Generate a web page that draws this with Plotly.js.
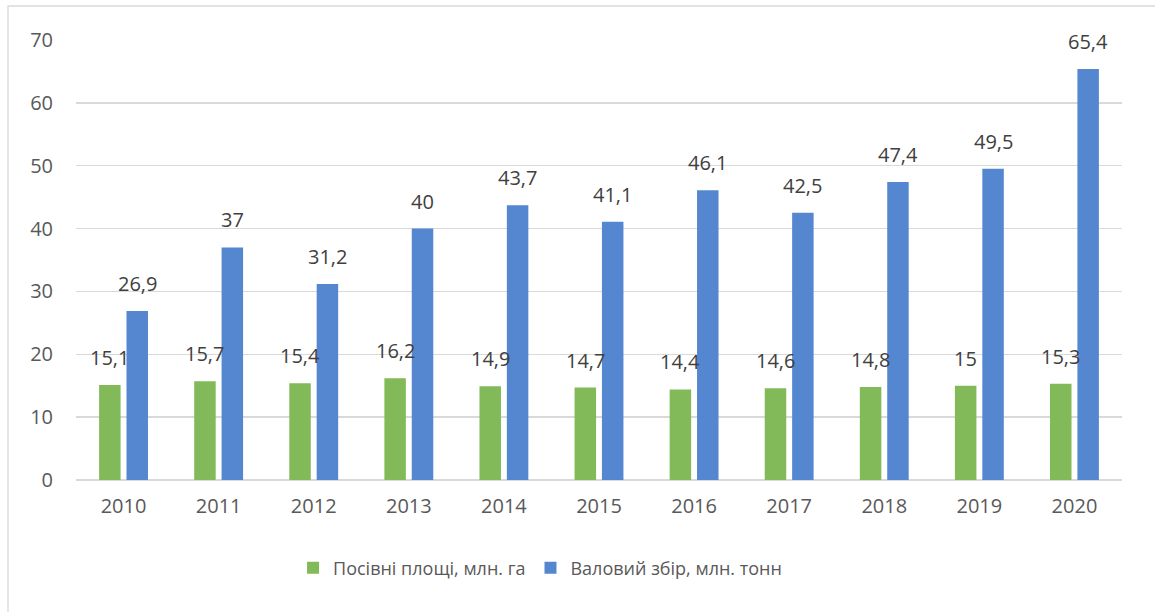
<!DOCTYPE html>
<html>
<head>
<meta charset="utf-8">
<script src="https://cdn.plot.ly/plotly-3.0.1.min.js"></script>
<style>html,body{margin:0;padding:0;background:#fff;}#chart{width:1155px;height:612px;}</style>
</head>
<body>
<div id="chart"></div>
<script>
const years = ['2010','2011','2012','2013','2014','2015','2016','2017','2018','2019','2020'];
const area = [15.1,15.7,15.4,16.2,14.9,14.7,14.4,14.6,14.8,15,15.3];
const harvest = [26.9,37,31.2,40,43.7,41.1,46.1,42.5,47.4,49.5,65.4];
const seriesNames = ['Посівні площі, млн. га','Валовий збір, млн. тонн'];
const yTicks = [0,10,20,30,40,50,60,70];

const GREEN = '#82BA5A';
const BLUE = '#5587D1';
const FONT = '"Open Sans", "Noto Sans", sans-serif';

function fmt(v){ return String(v).replace('.', ','); }

const traces = [
  {type:'bar', name:seriesNames[0], x:years, y:area, marker:{color:GREEN}, hoverinfo:'none'},
  {type:'bar', name:seriesNames[1], x:years, y:harvest, marker:{color:BLUE}, hoverinfo:'none'}
];

const annotations = [];
years.forEach((yr,i)=>{
  annotations.push({x:i, y:area[i], xref:'x', yref:'y', text:fmt(area[i]), showarrow:false,
    xanchor:'center', yanchor:'bottom', xshift:-13.7, yshift:12, font:{family:FONT,size:20,color:'#404040'}});
  annotations.push({x:i, y:harvest[i], xref:'x', yref:'y', text:fmt(harvest[i]), showarrow:false,
    xanchor:'center', yanchor:'bottom', xshift:13.7, yshift:12, font:{family:FONT,size:20,color:'#404040'}});
});

const layout = {
  width:1155, height:612,
  margin:{l:76, r:33, t:40, b:132},
  paper_bgcolor:'#ffffff', plot_bgcolor:'#ffffff',
  separators:', ',
  font:{family:FONT, size:20, color:'#595959'},
  barmode:'group', bargap:0.424, bargroupgap:0.215,
  showlegend:true,
  legend:{orientation:'h', x:0.2075, xanchor:'left', y:-0.2, yanchor:'middle',
    font:{family:FONT,size:18,color:'#595959'}, itemclick:false},
  xaxis:{type:'category', range:[-0.5, years.length-0.5], autorange:false, showgrid:false, showline:false, zeroline:false, ticks:'', ticklabelstandoff:12,
    tickfont:{family:FONT,size:20,color:'#595959'}, fixedrange:true},
  yaxis:{range:[0,70], autorange:false, tickvals:yTicks, showgrid:true, gridcolor:'#d9d9d9', gridwidth:1.3,
    zeroline:true, zerolinecolor:'#d9d9d9', zerolinewidth:1.3, showline:false, ticks:'', ticklabelstandoff:22,
    tickfont:{family:FONT,size:20,color:'#595959'}, fixedrange:true},
  annotations:annotations,
  shapes:[{type:'rect', xref:'paper', yref:'paper', x0:(8-76)/1046, x1:(1170-76)/1046, y0:(480-630)/440, y1:(480-6)/440,
    line:{color:'#d9d9d9', width:1.3}, fillcolor:'rgba(0,0,0,0)', layer:'below'}]
};

Plotly.newPlot('chart', traces, layout, {displayModeBar:false, staticPlot:true});
</script>
</body>
</html>
